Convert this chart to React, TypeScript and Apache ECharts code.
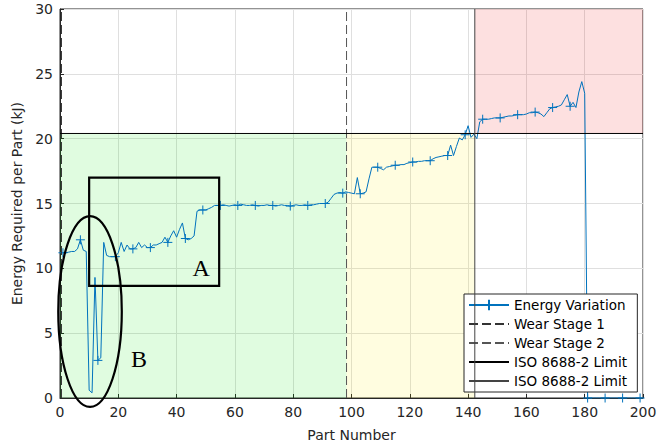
import React, { useEffect, useRef } from "react";
import * as echarts from "echarts";

// Part numbers 1..200
const partNumbers: number[] = Array.from({ length: 200 }, (_, i) => i + 1);

// Energy required per part (kJ)
const energyValues: number[] = [
  11.2, 11.2, 11.25, 11.3, 11.3, 11.5, 12.2, 11.4, 11.3, 0.6,
  0.4, 9.3, 2.9, 3.1, 12.0, 11.0, 10.9, 10.9, 10.9, 11.2,
  12.0, 11.3, 11.8, 11.5, 11.5, 11.6, 12.0, 11.6, 11.8, 11.6,
  11.6, 11.8, 11.8, 11.9, 12.0, 12.4, 12.0, 12.5, 12.9, 12.4,
  13.0, 13.5, 12.3, 12.2, 12.3, 12.5, 14.4, 14.5, 14.5, 14.5,
  14.6, 14.7, 14.85, 14.85, 14.85, 14.9, 14.85, 14.8, 14.85, 14.9,
  14.85, 14.95, 14.9, 14.85, 14.85, 14.9, 14.85, 14.8, 14.85, 14.85,
  14.9, 14.85, 14.85, 14.8, 14.85, 14.9, 14.85, 14.85, 14.8, 14.85,
  14.9, 14.85, 14.85, 14.9, 14.85, 14.9, 14.9, 14.95, 15.0, 15.0,
  15.0, 15.1, 15.4, 15.7, 15.8, 15.85, 15.8, 15.9, 15.85, 15.8,
  15.75, 17.0, 15.75, 15.8, 15.9, 16.9, 17.8, 17.8, 17.8, 17.7,
  17.6, 17.8, 17.85, 17.9, 17.95, 17.95, 18.0, 18.0, 18.1, 18.15,
  18.2, 18.2, 18.25, 18.25, 18.3, 18.3, 18.3, 18.45, 18.55, 18.6,
  18.65, 18.7, 18.7, 19.5, 18.7, 19.4, 20.05, 19.9, 20.3, 21.0,
  20.1, 20.35, 20.0, 21.3, 21.5, 21.5, 21.5, 21.55, 21.6, 21.6,
  21.6, 21.65, 21.7, 21.75, 21.75, 21.8, 21.85, 21.85, 21.85, 21.9,
  22.0, 22.0, 22.05, 22.0, 21.9, 21.7, 22.0, 22.3, 22.4, 22.45,
  22.5, 22.6, 23.0, 23.4, 22.5, 22.8, 22.4, 23.6, 24.4, 23.5,
  0, 0, 0, 0, 0, 0, 0, 0, 0, 0,
  0, 0, 0, 0, 0, 0, 0, 0, 0, 0,
];

const markerEvery = 6;

// Reference lines
const wearStage1X = 0.5;
const wearStage2X = 98.3;
const isoLimitY = 20.4;
const isoLimitX = 142.3;
const xRange = [0, 200];
const yRange = [0, 30];

// Annotations (data units)
const boxA = [10, 54.6, 8.65, 17]; // xmin, xmax, ymin, ymax
const ellipseB = [10.3, 6.67, 10.9, 7.36]; // cx, cy, rx, ry
const labelA = [48.45, 10.0];
const labelB = [27.1, 3.03];

const legendNames = [
  "Energy Variation",
  "Wear Stage 1",
  "Wear Stage 2",
  "ISO 8688-2 Limit",
  "ISO 8688-2 Limit ",
];

const plusPath = "path://M5,0 L5,10 M0,5 L10,5";
const blue = "#0072BD";
const axisColor = "#262626";

export default function App() {
  const ref = useRef<HTMLDivElement>(null);

  useEffect(() => {
    if (!ref.current) return;
    const chart = echarts.init(ref.current, null, { renderer: "svg" });

    const energyData = partNumbers.map((p, i) => ({
      value: [p, energyValues[i]],
      symbol: i % markerEvery === 0 ? plusPath : "none",
    }));

    const option: any = {
      animation: false,
      backgroundColor: "#ffffff",
      textStyle: { fontFamily: "DejaVu Sans" },
      grid: {
        left: 60,
        right: 27,
        top: 9,
        bottom: 48,
        show: true,
        borderColor: axisColor,
        borderWidth: 1,
        backgroundColor: "transparent",
      },
      xAxis: {
        type: "value",
        min: xRange[0],
        max: xRange[1],
        interval: 20,
        name: "Part Number",
        nameLocation: "middle",
        nameGap: 30,
        nameTextStyle: { fontSize: 14, color: axisColor },
        axisLine: { lineStyle: { color: axisColor } },
        axisTick: { inside: true, length: 4, lineStyle: { color: axisColor } },
        axisLabel: { fontSize: 14, color: axisColor, margin: 7 },
        splitLine: { show: true, lineStyle: { color: "#dfdfdf" } },
      },
      yAxis: {
        type: "value",
        min: yRange[0],
        max: yRange[1],
        interval: 5,
        name: "Energy Required per Part (kJ)",
        nameLocation: "middle",
        nameGap: 31,
        nameTextStyle: { fontSize: 14, color: axisColor },
        axisLine: { show: true, lineStyle: { color: axisColor } },
        axisTick: { show: true, inside: true, length: 4, lineStyle: { color: axisColor } },
        axisLabel: { fontSize: 14, color: axisColor, margin: 7 },
        splitLine: { show: true, lineStyle: { color: "#dfdfdf" } },
      },
      legend: {
        data: [
          { name: legendNames[0] },
          { name: legendNames[1], itemStyle: { opacity: 0 } },
          { name: legendNames[2], itemStyle: { opacity: 0 } },
          { name: legendNames[3], itemStyle: { opacity: 0 } },
          { name: legendNames[4], itemStyle: { opacity: 0 } },
        ],
        orient: "vertical",
        left: 464,
        top: 294,
        itemWidth: 40,
        itemHeight: 13,
        itemGap: 5,
        padding: [4, 6, 4, 4],
        backgroundColor: "#ffffff",
        borderColor: axisColor,
        borderWidth: 1,
        borderRadius: 0,
        textStyle: { fontSize: 13.5, color: "#000" },
      },
      series: [
        {
          type: "line",
          name: "regions",
          data: [],
          silent: true,
          z: 1,
          markArea: {
            silent: true,
            data: [
              [
                { xAxis: xRange[0], yAxis: yRange[0], itemStyle: { color: "rgba(0,230,0,0.12)" } },
                { xAxis: wearStage2X, yAxis: isoLimitY },
              ],
              [
                { xAxis: wearStage2X, yAxis: yRange[0], itemStyle: { color: "rgba(255,240,0,0.12)" } },
                { xAxis: isoLimitX, yAxis: isoLimitY },
              ],
              [
                { xAxis: isoLimitX, yAxis: isoLimitY, itemStyle: { color: "rgba(240,0,0,0.12)" } },
                { xAxis: xRange[1], yAxis: yRange[1] },
              ],
            ],
          },
        },
        {
          type: "line",
          name: legendNames[0],
          data: energyData,
          symbol: plusPath,
          symbolSize: 9,
          showSymbol: true,
          z: 3,
          lineStyle: { color: blue, width: 1 },
          itemStyle: { color: blue, borderColor: blue, borderWidth: 1 },
        },
        {
          type: "line",
          name: legendNames[1],
          data: [
            [wearStage1X, yRange[0]],
            [wearStage1X, yRange[1]],
          ],
          symbol: "none",
          z: 4,
          lineStyle: { color: "#333333", width: 1, type: [9, 4] },
          itemStyle: { color: "#333333" },
        },
        {
          type: "line",
          name: legendNames[2],
          data: [
            [wearStage2X, yRange[0]],
            [wearStage2X, yRange[1]],
          ],
          symbol: "none",
          z: 4,
          lineStyle: { color: "#555555", width: 1, type: [9, 4] },
          itemStyle: { color: "#555555" },
        },
        {
          type: "line",
          name: legendNames[3],
          data: [
            [xRange[0], isoLimitY],
            [xRange[1], isoLimitY],
          ],
          symbol: "none",
          z: 4,
          lineStyle: { color: "#000000", width: 1 },
          itemStyle: { color: "#000000" },
        },
        {
          type: "line",
          name: legendNames[4],
          data: [
            [isoLimitX, yRange[0]],
            [isoLimitX, yRange[1]],
          ],
          symbol: "none",
          z: 4,
          lineStyle: { color: "#444444", width: 1 },
          itemStyle: { color: "#444444" },
        },
      ],
    };

    chart.setOption(option);

    const px = (x: number, y: number) =>
      chart.convertToPixel({ gridIndex: 0 }, [x, y]) as number[];

    const [bx0, by0] = px(boxA[0], boxA[3]);
    const [bx1, by1] = px(boxA[1], boxA[2]);
    const [ecx, ecy] = px(ellipseB[0], ellipseB[1]);
    const [erx, ery] = px(ellipseB[0] + ellipseB[2], ellipseB[1] + ellipseB[3]);
    const [lax, lay] = px(labelA[0], labelA[1]);
    const [lbx, lby] = px(labelB[0], labelB[1]);

    chart.setOption({
      graphic: [
        {
          type: "rect",
          z: 100,
          silent: true,
          shape: { x: bx0, y: by0, width: bx1 - bx0, height: by1 - by0 },
          style: { fill: "none", stroke: "#000", lineWidth: 2.2 },
        },
        {
          type: "ellipse",
          z: 100,
          silent: true,
          shape: { cx: ecx, cy: ecy, rx: Math.abs(erx - ecx), ry: Math.abs(ecy - ery) },
          style: { fill: "none", stroke: "#000", lineWidth: 2.2 },
        },
        {
          type: "text",
          z: 100,
          silent: true,
          x: lax,
          y: lay,
          style: {
            text: "A",
            fill: "#000",
            font: '24px "Liberation Serif"',
            textAlign: "center",
            textVerticalAlign: "middle",
          },
        },
        {
          type: "text",
          z: 100,
          silent: true,
          x: lbx,
          y: lby,
          style: {
            text: "B",
            fill: "#000",
            font: '24px "Liberation Serif"',
            textAlign: "center",
            textVerticalAlign: "middle",
          },
        },
      ],
    });

    return () => {
      chart.dispose();
    };
  }, []);

  return (
    <div
      ref={ref}
      style={{ position: "fixed", left: 0, top: 0, width: 670, height: 447 }}
    />
  );
}
